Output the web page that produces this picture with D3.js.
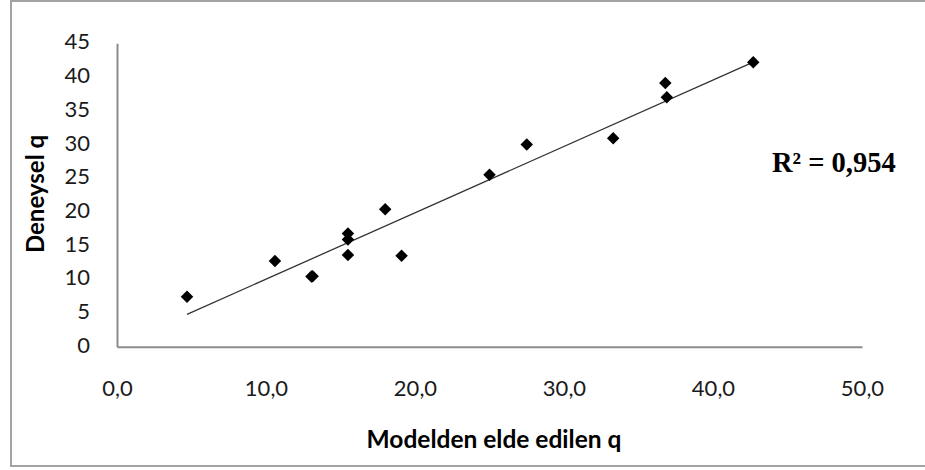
<!DOCTYPE html>
<html><head><meta charset="utf-8">
<script src="https://cdn.jsdelivr.net/npm/d3@7"></script>
<style>html,body{margin:0;padding:0;background:#fff;}svg{display:block;}</style>
</head><body>
<svg id="chart" width="925" height="470"></svg>
<script>
// Data
const modelQ = [4.7, 10.6, 13.05, 13.13, 15.5, 15.5, 15.5, 18.0, 19.1, 25.0, 27.5, 33.3, 36.8, 36.9, 42.7];
const deneyselQ = [7.4, 12.7, 10.4, 10.45, 13.6, 15.9, 16.8, 20.4, 13.5, 25.5, 30.0, 30.9, 39.1, 37.0, 42.2];
const trendX = [4.7, 42.7];
const trendY = [4.8, 42.2];
const xTicks = [0, 10, 20, 30, 40, 50];
const yTicks = [0, 5, 10, 15, 20, 25, 30, 35, 40, 45];
const xTitle = "Modelden elde edilen q";
const yTitle = "Deneysel q";
const r2Label = "R² = 0,954";

const svg = d3.select("#chart");
const W = 925, H = 470;
const plot = {left: 117, right: 862, top: 43.3, bottom: 346.7};
const sans = "Lato, 'Open Sans', sans-serif";

svg.append("rect").attr("x", 0).attr("y", 0).attr("width", W).attr("height", H).attr("fill", "#fff");
// outer border
svg.append("path")
  .attr("d", `M${W},1 H11 V466 H${W}`)
  .attr("fill", "none").attr("stroke", "#a3a3a3").attr("stroke-width", 2);

const x = d3.scaleLinear().domain([0, 50]).range([plot.left, plot.right]);
const y = d3.scaleLinear().domain([0, 45]).range([plot.bottom, plot.top]);

const fmtComma = d => d3.format(".1f")(d).replace(".", ",");

const xAxis = svg.append("g").attr("transform", `translate(0,${plot.bottom})`)
  .call(d3.axisBottom(x).tickValues(xTicks).tickFormat(fmtComma).tickSize(0).tickPadding(44));
const yAxis = svg.append("g").attr("transform", `translate(${plot.left},0)`)
  .call(d3.axisLeft(y).tickValues(yTicks).tickFormat(d3.format("d")).tickSize(0).tickPadding(27));
[xAxis, yAxis].forEach(g => {
  g.select(".domain").attr("stroke", "#8c8c8c").attr("stroke-width", 2);
  g.selectAll("text").attr("font-family", sans).attr("font-size", 22).attr("fill", "#1a1a1a")
    .attr("dy", null).attr("dominant-baseline", "middle");
});

// trend line
svg.append("line")
  .attr("x1", x(trendX[0])).attr("y1", y(trendY[0]))
  .attr("x2", x(trendX[1])).attr("y2", y(trendY[1]))
  .attr("stroke", "#333").attr("stroke-width", 1.3);

// points
const pts = modelQ.map((v, i) => ({x: v, y: deneyselQ[i]}));
svg.append("g").selectAll("path").data(pts).join("path")
  .attr("d", d3.symbol().type(d3.symbolSquare).size(78))
  .attr("transform", d => `translate(${x(d.x)},${y(d.y)}) rotate(45)`)
  .attr("fill", "#000");

// titles
svg.append("text").attr("x", 494).attr("y", 448)
  .attr("text-anchor", "middle").attr("font-family", sans)
  .attr("font-weight", "bold").attr("font-size", 24.5).attr("fill", "#000").text(xTitle);
svg.append("text").attr("transform", "translate(44,194) rotate(-90)")
  .attr("text-anchor", "middle").attr("font-family", sans)
  .attr("font-weight", "bold").attr("font-size", 24).attr("fill", "#000").text(yTitle);

svg.append("text").attr("x", 772).attr("y", 172)
  .attr("font-family", "'Liberation Serif', 'Times New Roman', serif")
  .attr("font-weight", "bold").attr("font-size", 28.5).attr("fill", "#000").text(r2Label);
</script>
</body></html>
